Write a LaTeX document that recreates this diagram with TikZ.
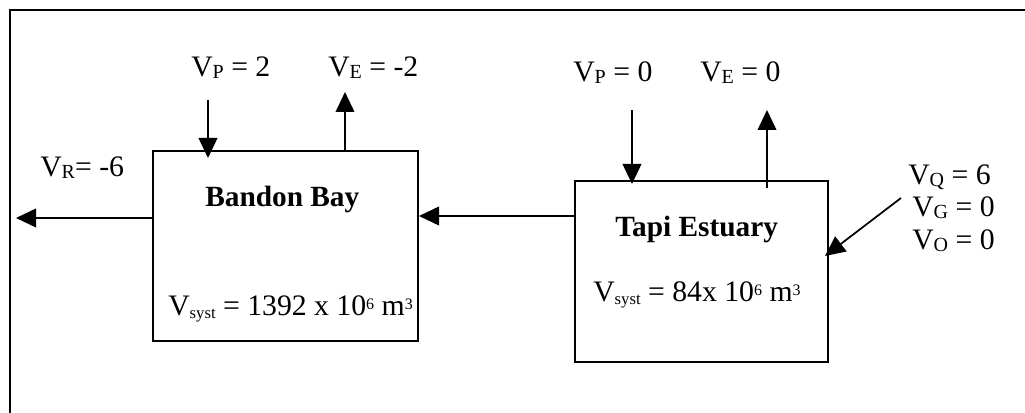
\documentclass[tikz,border=0pt]{standalone}
\usepackage{fontspec}
\setmainfont{Liberation Serif}
\usetikzlibrary{arrows.meta}
\newcommand{\sbs}[1]{\raisebox{-1.4pt}{\fontsize{15}{15}\selectfont #1}}
\newcommand{\sbl}[1]{\raisebox{-2pt}{\fontsize{12.5}{12.5}\selectfont #1}}
\newcommand{\sps}[1]{\raisebox{5pt}{\fontsize{12}{12}\selectfont #1}}
\begin{document}
\begin{tikzpicture}[x=0.75pt,y=-0.75pt,
  lbl/.style={anchor=base west,inner sep=0,font=\fontsize{22.3}{22.3}\selectfont},
  ttl/.style={anchor=base west,inner sep=0,font=\fontsize{22}{22}\selectfont\bfseries},
  flow/.style={line width=1.3pt,-{Triangle[length=15pt,width=14pt]}},
  boxline/.style={line width=1.5pt}]
\useasboundingbox (0,0) rectangle (1025,413);
% frame
\draw[line width=1.5pt] (10,420) -- (10,10) -- (1030,10);
% boxes
\node[boxline,draw,minimum width=265*0.75pt,minimum height=190*0.75pt,inner sep=0,anchor=north west] (bb) at (152,150) {};
\node[boxline,draw,minimum width=253*0.75pt,minimum height=181*0.75pt,inner sep=0,anchor=north west] (te) at (574,180) {};
% titles and volumes
\node[ttl] (bbt) at (205,207) {Bandon Bay};
\node[lbl] (bbv) at (168,316) {V\sbl{syst} = 1392 x 10\sps{6} m\sps{3}};
\node[ttl] (tet) at (615,237) {Tapi Estuary};
\node[lbl] (tev) at (593,302) {V\sbl{syst} = 84x 10\sps{6} m\sps{3}};
% labels
\node[lbl] (vp1) at (191,77) {V\sbs{P} = 2};
\node[lbl] (ve1) at (328,77) {V\sbs{E} = -2};
\node[lbl] (vr) at (40,177) {V\sbs{R}= -6};
\node[lbl] (vp2) at (573,82) {V\sbs{P} = 0};
\node[lbl] (ve2) at (700,82) {V\sbs{E} = 0};
\node[lbl] (vq) at (908,185) {V\sbs{Q} = 6};
\node[lbl] (vg) at (912,217) {V\sbs{G} = 0};
\node[lbl] (vo) at (912,250) {V\sbs{O} = 0};
% coordinates
\coordinate (vp1s) at (208,100);
\coordinate (vp1e) at (208,158);
\coordinate (ve1s) at (345,150);
\coordinate (ve1e) at (345,92);
\coordinate (vrs) at (152,218);
\coordinate (vre) at (16,218);
\coordinate (mids) at (574,216);
\coordinate (mide) at (419,216);
\coordinate (vp2s) at (632,110);
\coordinate (vp2e) at (632,184);
\coordinate (ve2s) at (767,188);
\coordinate (ve2e) at (767,110);
\coordinate (qs) at (901,198);
\coordinate (qe) at (825,256);
% arrows
\draw[flow] (vp1s) -- (vp1e);
\draw[flow] (ve1s) -- (ve1e);
\draw[flow] (vrs) -- (vre);
\draw[flow] (mids) -- (mide);
\draw[flow] (vp2s) -- (vp2e);
\draw[flow] (ve2s) -- (ve2e);
\draw[flow] (qs) -- (qe);
\end{tikzpicture}
\end{document}
